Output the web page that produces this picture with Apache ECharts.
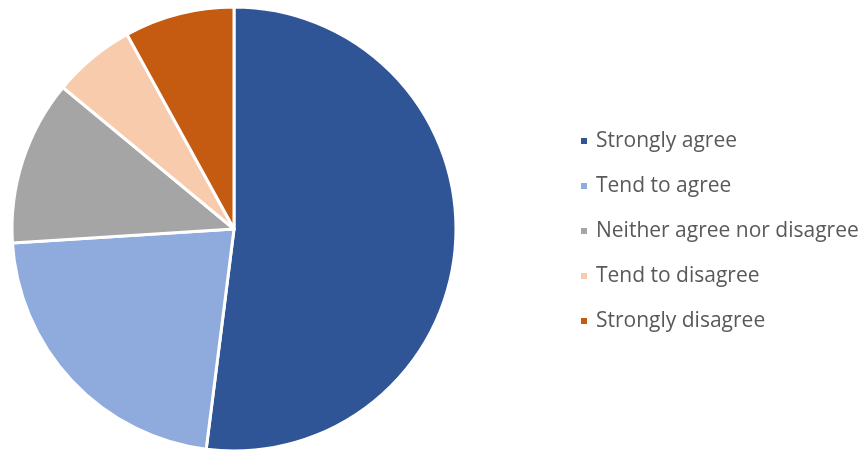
<!DOCTYPE html>
<html>
<head>
<meta charset="utf-8">
<script src="https://cdn.jsdelivr.net/npm/echarts@6/dist/echarts.min.js"></script>
<style>
  html, body { margin: 0; padding: 0; background: #ffffff; }
  #chart { width: 862px; height: 450px; }
</style>
</head>
<body>
<div id="chart"></div>
<script>
// Survey response shares (percent)
const categories = [
  'Strongly agree',
  'Tend to agree',
  'Neither agree nor disagree',
  'Tend to disagree',
  'Strongly disagree'
];
const values = [52, 22, 12, 6, 8];
const colors = ['#2f5597', '#8faadc', '#a5a5a5', '#f8cbad', '#c55a11'];

const chart = echarts.init(document.getElementById('chart'), null, { renderer: 'canvas' });

chart.setOption({
  animation: false,
  color: colors,
  legend: {
    orient: 'vertical',
    left: 574,
    top: 124,
    icon: 'rect',
    itemWidth: 8,
    itemHeight: 8,
    itemGap: 21,
    data: categories,
    textStyle: {
      color: '#595959',
      fontSize: 21,
      lineHeight: 24,
      padding: [0, 0, 0, 3],
      fontFamily: 'Open Sans'
    }
  },
  series: [{
    type: 'pie',
    center: [234, 229],
    radius: 222,
    startAngle: 90,
    clockwise: true,
    label: { show: false },
    labelLine: { show: false },
    emphasis: { disabled: true },
    itemStyle: { borderColor: '#ffffff', borderWidth: 3 },
    data: categories.map((name, i) => ({ name, value: values[i] }))
  }]
});
</script>
</body>
</html>
